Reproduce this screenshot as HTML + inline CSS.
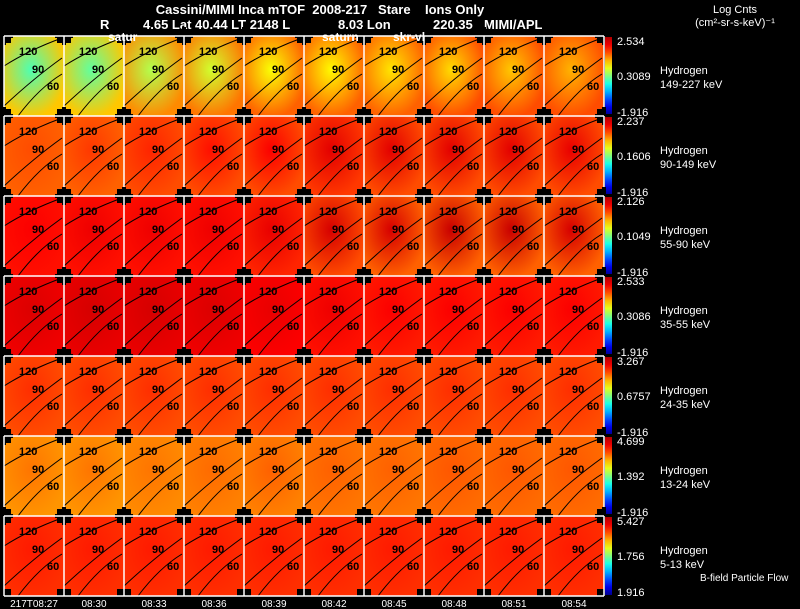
<!DOCTYPE html>
<html><head><meta charset="utf-8"><style>
body{margin:0;background:#000;width:800px;height:609px;overflow:hidden;font-family:"Liberation Sans",sans-serif;}
svg{display:block}
text{font-family:"Liberation Sans",sans-serif;white-space:pre;}
</style></head><body>
<svg id="c" width="800" height="609">
<defs id="defs"></defs>
<text x="320" y="14" fill="#fff" font-size="13" font-weight="bold" text-anchor="middle">Cassini/MIMI Inca mTOF  2008-217   Stare    Ions Only</text>
<text x="100" y="29" fill="#fff" font-size="13" font-weight="bold">R</text>
<text x="143" y="29" fill="#fff" font-size="13" font-weight="bold"><tspan x="143">4.65 Lat 40.44 LT 2148 L</tspan><tspan x="338">8.03 Lon</tspan><tspan x="433">220.35</tspan><tspan x="484">MIMI/APL</tspan></text>
<text x="735" y="13" fill="#fff" font-size="11" text-anchor="middle">Log Cnts</text>
<text x="735" y="26" fill="#fff" font-size="11" text-anchor="middle">(cm²-sr-s-keV)⁻¹</text>
<g id="g"></g>
<text x="108" y="41" fill="#fff" font-size="12" font-weight="bold">satur</text>
<text x="322" y="41" fill="#fff" font-size="12" font-weight="bold">saturn</text>
<text x="393" y="41" fill="#fff" font-size="12" font-weight="bold">skr-vl</text>
<text x="700" y="581" fill="#fff" font-size="10">B-field Particle Flow</text>
</svg>
<script>
const rowLabels=["149-227 keV","90-149 keV","55-90 keV","35-55 keV","24-35 keV","13-24 keV","5-13 keV"];
const cbMax=["2.534","2.237","2.126","2.533","3.267","4.699","5.427"];
const cbMid=["0.3089","0.1606","0.1049","0.3086","0.6757","1.392","1.756"];
const cbMin=["-1.916","-1.916","-1.916","-1.916","-1.916","-1.916","1.916"];
const times=["217T08:27","08:30","08:33","08:36","08:39","08:42","08:45","08:48","08:51","08:54"];
const centerVals=[
[0.45,0.47,0.55,0.58,0.62,0.63,0.65,0.66,0.68,0.7],
[0.8,0.82,0.84,0.86,0.88,0.92,0.92,0.92,0.92,0.91],
[0.88,0.9,0.9,0.9,0.91,0.94,0.94,0.96,0.96,0.94],
[0.93,0.94,0.94,0.93,0.91,0.9,0.88,0.88,0.88,0.88],
[0.83,0.83,0.83,0.83,0.83,0.83,0.83,0.83,0.83,0.83],
[0.76,0.76,0.76,0.77,0.78,0.78,0.78,0.79,0.79,0.79],
[0.85,0.85,0.85,0.85,0.85,0.85,0.85,0.85,0.85,0.85]];
const edgeVals=[
[0.68,0.68,0.74,0.76,0.78,0.78,0.78,0.8,0.8,0.8],
[0.78,0.78,0.8,0.8,0.8,0.82,0.8,0.8,0.8,0.8],
[0.86,0.86,0.86,0.86,0.84,0.8,0.78,0.78,0.78,0.78],
[0.9,0.91,0.91,0.9,0.88,0.86,0.85,0.85,0.85,0.85],
[0.8,0.8,0.8,0.8,0.8,0.8,0.8,0.8,0.8,0.8],
[0.73,0.73,0.74,0.75,0.75,0.76,0.76,0.77,0.77,0.77],
[0.83,0.83,0.83,0.83,0.83,0.83,0.83,0.83,0.83,0.83]];
const X0=4,Y0=36,PW=60,PH=80;
const NS="http://www.w3.org/2000/svg";
const g=document.getElementById('g'),defs=document.getElementById('defs');
function jet(t){
 const st=[[0,[0,0,143]],[0.125,[0,0,255]],[0.375,[0,255,255]],[0.5,[128,255,128]],[0.625,[255,255,0]],[0.875,[255,0,0]],[1,[176,0,0]]];
 for(let i=1;i<st.length;i++){if(t<=st[i][0]){const a=st[i-1],b=st[i],f=(t-a[0])/(b[0]-a[0]);
 return 'rgb('+a[1].map((v,k)=>Math.round(v+(b[1][k]-v)*f)).join(',')+')';}}
 return 'rgb(176,0,0)';}
function el(tag,attrs,parent){const e=document.createElementNS(NS,tag);for(const k in attrs)e.setAttribute(k,attrs[k]);(parent||g).appendChild(e);return e;}
const lg=el('linearGradient',{id:'cb',x1:0,y1:1,x2:0,y2:0},defs);
for(let i=0;i<=10;i++)el('stop',{offset:i/10,'stop-color':jet(i/10)},lg);
for(let r=0;r<7;r++){
 const y=Y0+r*PH;
 for(let c=0;c<10;c++){
  const x=X0+c*PW,id='p'+r+'_'+c;
  const rg=el('radialGradient',{id:id,cx:0.45,cy:0.42,r:0.6},defs);
  el('stop',{offset:0,'stop-color':jet(centerVals[r][c])},rg);
  el('stop',{offset:1,'stop-color':jet(edgeVals[r][c])},rg);
  const p=el('rect',{x:x,y:y,width:PW,height:PH,fill:'url(#'+id+')'});
  
  
  const cg=el('g',{fill:'none',stroke:'#000','stroke-width':1});
  el('path',{d:`M${x} ${y+30} Q${x+25} ${y+14} ${x+58} ${y+2}`},cg);
  el('path',{d:`M${x} ${y+70} Q${x+30} ${y+42} ${x+58} ${y+22}`},cg);
  el('path',{d:`M${x+14} ${y+80} Q${x+35} ${y+52} ${x+58} ${y+38}`},cg);
  const lab=[["120",15,19],["90",28,37],["60",43,54]];
  lab.forEach(l=>{const t=el('text',{x:x+l[1],y:y+l[2],'font-size':11,'font-weight':'bold',fill:'#000'});t.textContent=l[0];
   });
  [[x,y],[x+PW-7,y],[x,y+PH-7],[x+PW-7,y+PH-7]].forEach(q=>el('rect',{x:q[0],y:q[1],width:7,height:7,fill:'#000'}));
 }
 for(let c=0;c<=10;c++){const x=X0+c*PW;
  el('rect',{x:x-9,y:y-2,width:18,height:4,fill:'#000'});el('rect',{x:x-2,y:y-9,width:4,height:18,fill:'#000'});
  el('line',{x1:x,y1:y,x2:x,y2:y+PH,stroke:'#fff','stroke-width':1.5});}
 el('line',{x1:X0,y1:y,x2:X0+600,y2:y,stroke:'#fff','stroke-width':1.5});
 const cb=el('rect',{x:605,y:y+1,width:7,height:PH-2,fill:'url(#cb)'});
 
 const t1=el('text',{x:617,y:y+9,fill:'#fff','font-size':11});t1.textContent=cbMax[r];
 
 const t2=el('text',{x:617,y:y+44,fill:'#fff','font-size':11});t2.textContent=cbMid[r];
 
 const t3=el('text',{x:617,y:y+80,fill:'#fff','font-size':11});t3.textContent=cbMin[r];
 
 const h=el('text',{x:660,y:y+38,fill:'#fff','font-size':11});h.textContent='Hydrogen';
 
 const e=el('text',{x:660,y:y+52,fill:'#fff','font-size':11});e.textContent=rowLabels[r];
 
}
el('line',{x1:X0,y1:Y0+7*PH,x2:X0+600,y2:Y0+7*PH,stroke:'#fff','stroke-width':1.5});
times.forEach((t,c)=>{const tx=el('text',{x:X0+c*PW+30,y:607,fill:'#fff','font-size':10,'text-anchor':'middle'});tx.textContent=t;
 });
</script>
</body></html>
